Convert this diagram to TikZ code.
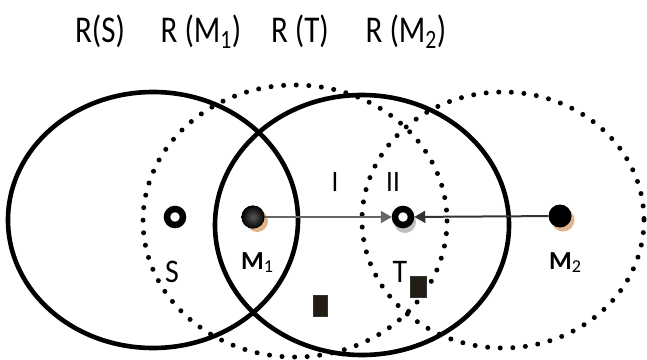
\documentclass[tikz,border=0pt]{standalone}
\usepackage{fontspec}
\setmainfont{Carlito}
\usetikzlibrary{arrows.meta}
\definecolor{tanshadow}{HTML}{D9A070}
\definecolor{sqcol}{HTML}{221E15}
\newcommand{\tstretch}[1]{\scalebox{1}[1.22]{#1}}
\newcommand{\lstretch}[1]{\scalebox{1}[1.1]{#1}}
\tikzset{
  solidrange/.style={line width=4.6pt},
  dotrange/.style={line width=5pt, dash pattern=on 0pt off 12.6pt, line cap=round},
  ring/.style={circle, draw=black, line width=6.5pt, minimum size=16pt, inner sep=0pt, fill=white},
  relay/.style={circle, fill=black, minimum size=23pt, inner sep=0pt},
  titletext/.style={font=\fontsize{31}{33}\selectfont, anchor=base, inner sep=0pt},
  lbl/.style={font=\fontsize{30}{32}\selectfont, inner sep=0pt},
  rlbl/.style={font=\fontsize{27}{29}\selectfont, inner sep=0pt},
  mlbl/.style={font=\fontsize{26}{28}\selectfont\bfseries, inner sep=0pt},
  obstacle/.style={fill=sqcol, draw=black!80, line width=0.6pt},
  arr/.style={line width=2pt, -{Triangle[length=11pt, width=12pt]}},
}
\begin{document}
\begin{tikzpicture}[x=1pt,y=-1pt]
\useasboundingbox (0,0) rectangle (647,359);
% titles
\node[titletext] (tS) at (100,42) {\tstretch{R(S)}};
\node[titletext] (tM1) at (201,42) {\tstretch{R (M\textsubscript{1})}};
\node[titletext] (tT) at (300,42) {\tstretch{R (T)}};
\node[titletext] (tM2) at (406,42) {\tstretch{R (M\textsubscript{2})}};
% ranges
\draw[solidrange] (153,220) ellipse [x radius=145, y radius=128];
\draw[solidrange] (362,225) ellipse [x radius=147, y radius=130];
\draw[dotrange] (295,221) ellipse [x radius=152, y radius=136];
\draw[dotrange] (503,220) ellipse [x radius=141, y radius=128];
% shadows
\fill[tanshadow!80] (257,221) circle (11);
\fill[tanshadow!80] (563,220) circle (11.5);
\fill[black!25] (405,222) circle (11);
% nodes
\node[ring] (S) at (175,217) {};
\node[relay, shading=radial, inner color=black!65, outer color=black] (M1) at (253,217) {};
\node[ring] (T) at (403,217) {};
\node[relay] (M2) at (560,216) {};
% connectors
\draw[arr, black!60] (M1) -- (T);
\draw[arr, black!80] (M2) -- (T);
% labels
\node[lbl, anchor=base] (lS) at (172,282) {\lstretch{S}};
\node[mlbl, anchor=base west] (lM1) at (241,269) {M\textsubscript{\mdseries 1}};
\node[lbl, anchor=base] (lT) at (400,282) {\lstretch{T}};
\node[mlbl, anchor=base west] (lM2) at (549,269) {M\textsubscript{\mdseries 2}};
\node[rlbl, anchor=base] (lI) at (335,191) {\lstretch{I}};
\node[rlbl, anchor=base] (lII) at (393,191) {\lstretch{II}};
% obstacles
\draw[obstacle] (313,295) rectangle (327,316);
\draw[obstacle] (410,276) rectangle (426,297);
\end{tikzpicture}
\end{document}
